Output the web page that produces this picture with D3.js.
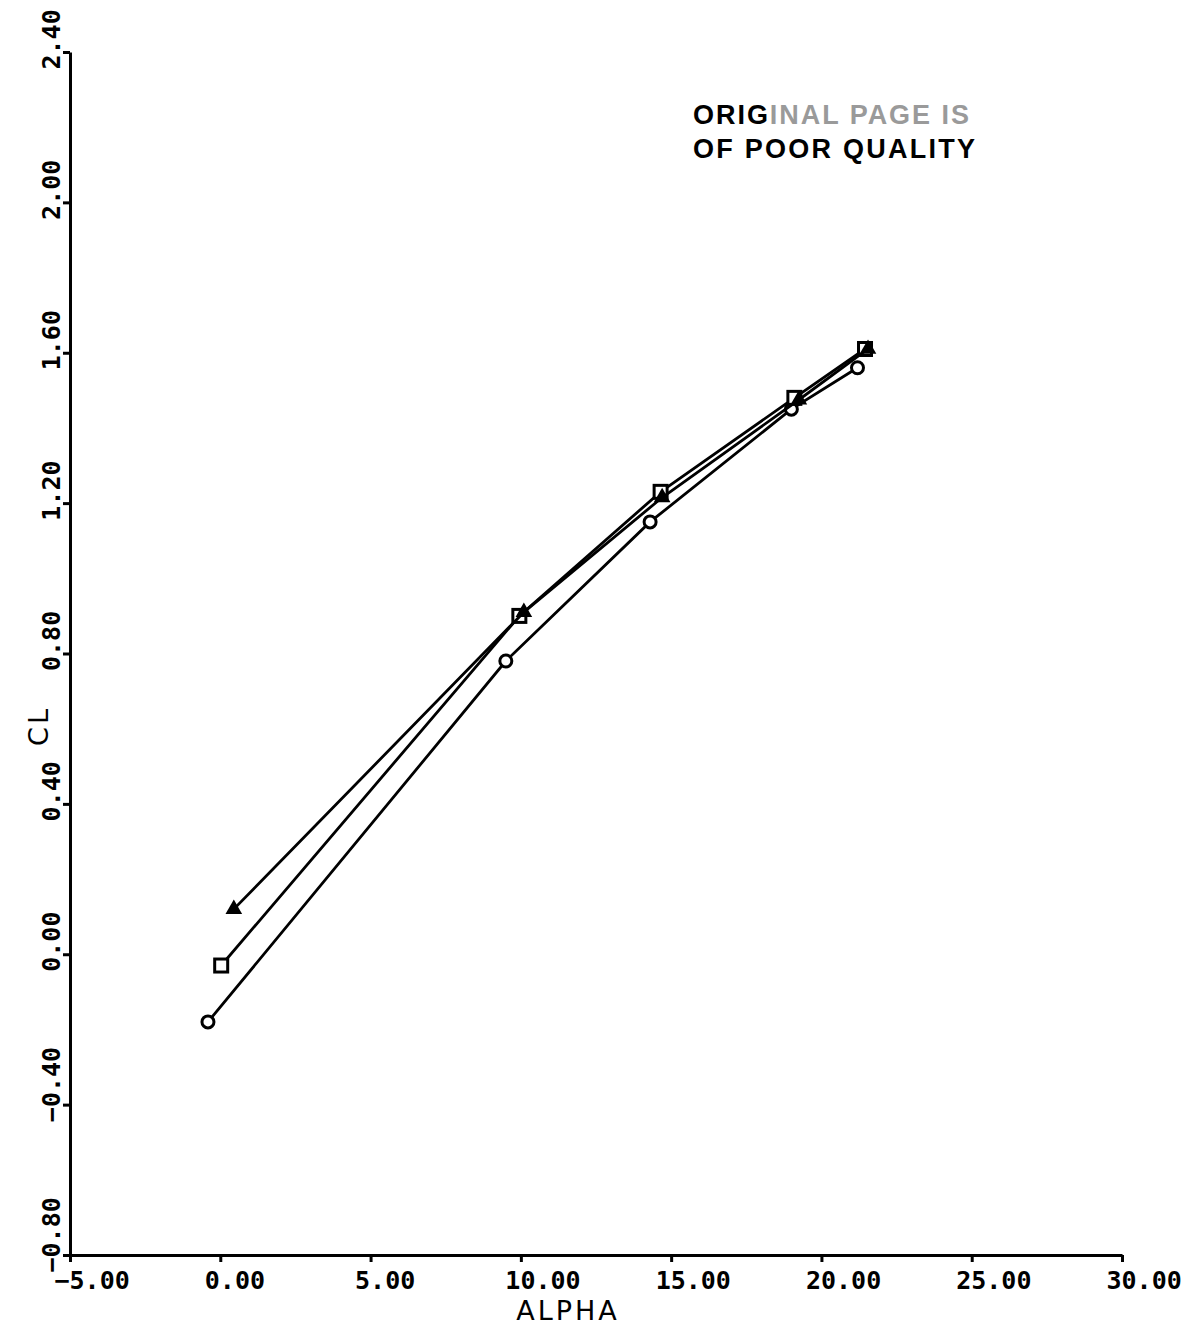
<!DOCTYPE html>
<html><head><meta charset="utf-8">
<script src="https://cdn.jsdelivr.net/npm/d3@7"></script>
<style>html,body{margin:0;padding:0;background:#fff}</style>
</head><body>
<script>
const xTicks = [-5, 0, 5, 10, 15, 20, 25, 30];
const yTicks = [-0.8, -0.4, 0, 0.4, 0.8, 1.2, 1.6, 2.0, 2.4];
const alphaCircle = [-0.41, 9.5, 14.3, 19.0, 21.2];
const clCircle    = [-0.18, 0.78, 1.15, 1.45, 1.56];
const alphaSquare = [0.03, 9.95, 14.65, 19.1, 21.45];
const clSquare    = [-0.03, 0.90, 1.23, 1.48, 1.61];
const alphaTri    = [0.45, 10.1, 14.7, 19.25, 21.55];
const clTri       = [0.12, 0.91, 1.215, 1.475, 1.61];
const xLabel = "ALPHA", yLabel = "CL";

const W = 1195, H = 1328;
const svg = d3.select("body").append("svg").attr("width", W).attr("height", H);
const x = d3.scaleLinear().domain([-5, 30]).range([70, 1122]);
const y = d3.scaleLinear().domain([-0.8, 2.4]).range([1255, 52]);
const mono = "'DejaVu Sans Mono', monospace";

// x axis
const gx = svg.append("g").attr("transform", `translate(0,${y(-0.8)})`)
  .call(d3.axisBottom(x).tickValues(xTicks).tickSize(7).tickSizeOuter(0).tickFormat(d3.format(".2f")));
gx.select(".domain").attr("stroke", "#000").attr("stroke-width", 3);
gx.selectAll(".tick line").attr("stroke", "#000").attr("stroke-width", 3);
gx.selectAll(".tick text").attr("fill", "#000").attr("font-family", mono).attr("font-weight", "bold")
  .attr("font-size", 25).attr("text-anchor", "start").attr("x", -16).attr("y", 0).attr("dy", 0)
  .attr("transform", "translate(0,34)");

// y axis
const gy = svg.append("g").attr("transform", `translate(${x(-5)},0)`)
  .call(d3.axisLeft(y).tickValues(yTicks).tickSize(7).tickSizeOuter(0).tickFormat(d3.format(".2f")));
gy.select(".domain").attr("stroke", "#000").attr("stroke-width", 3);
gy.selectAll(".tick line").attr("stroke", "#000").attr("stroke-width", 3);
gy.selectAll(".tick text").attr("fill", "#000").attr("font-family", mono).attr("font-weight", "bold")
  .attr("font-size", 25).attr("text-anchor", "start").attr("x", 0).attr("y", 0).attr("dy", 0)
  .attr("transform", "translate(-10,17) rotate(-90)");

// axis titles
svg.append("text").attr("x", 568).attr("y", 1320).attr("text-anchor", "middle")
  .attr("font-family", "'DejaVu Sans', sans-serif").attr("font-size", 27).attr("letter-spacing", 3)
  .attr("fill", "#000").text(xLabel);
svg.append("text").attr("transform", "translate(48,726) rotate(-90)").attr("text-anchor", "middle")
  .attr("font-family", "'DejaVu Sans', sans-serif").attr("font-size", 27).attr("letter-spacing", 3)
  .attr("fill", "#000").text(yLabel);

// watermark
const wm = svg.append("g").attr("font-family", "'Liberation Sans', Arial, sans-serif").attr("font-weight", "bold").attr("font-size", 27);
const t1 = wm.append("text").attr("x", 693).attr("y", 124).attr("fill", "#000").attr("textLength", 276);
t1.append("tspan").text("ORIG");
t1.append("tspan").attr("fill", "#9a9a9a").text("INAL PAGE IS");
wm.append("text").attr("x", 693).attr("y", 158).attr("fill", "#000").attr("textLength", 282).text("OF POOR QUALITY");

// series
const line = d3.line().x(d => x(d[0])).y(d => y(d[1]));
const series = [
  {a: alphaCircle, c: clCircle, m: "circle"},
  {a: alphaSquare, c: clSquare, m: "square"},
  {a: alphaTri, c: clTri, m: "triangle"}
];
series.forEach(s => {
  const pts = s.a.map((v, i) => [v, s.c[i]]);
  svg.append("path").datum(pts).attr("d", line).attr("fill", "none").attr("stroke", "#000").attr("stroke-width", 2.8);
  const g = svg.append("g");
  pts.forEach(p => {
    const px = x(p[0]), py = y(p[1]);
    if (s.m === "circle") {
      g.append("circle").attr("cx", px).attr("cy", py).attr("r", 6).attr("fill", "#fff").attr("stroke", "#000").attr("stroke-width", 3);
    } else if (s.m === "square") {
      g.append("rect").attr("x", px - 6.5).attr("y", py - 6.5).attr("width", 13).attr("height", 13).attr("fill", "#fff").attr("stroke", "#000").attr("stroke-width", 3);
    } else {
      g.append("path").attr("d", d3.symbol(d3.symbolTriangle, 120)()).attr("transform", `translate(${px},${py})`).attr("fill", "#000");
    }
  });
});
</script>
</body></html>
